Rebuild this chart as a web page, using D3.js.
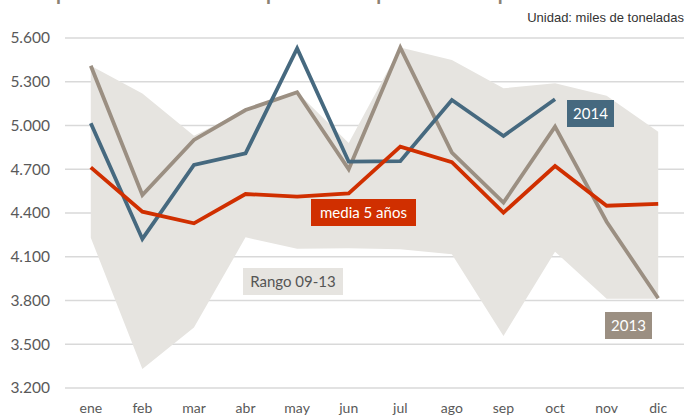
<!DOCTYPE html>
<html>
<head>
<meta charset="utf-8">
<script src="https://cdn.jsdelivr.net/npm/d3@7"></script>
<style>
	body { margin: 0; background: #fff; }
	svg { display: block; }
</style>
</head>
<body>
<div id="chart"></div>
<script>
// Monthly values, thousand tonnes
const months = ['ene', 'feb', 'mar', 'abr', 'may', 'jun', 'jul', 'ago', 'sep', 'oct', 'nov', 'dic'];
const yTicks = [3200, 3500, 3800, 4100, 4400, 4700, 5000, 5300, 5600];

const rangeMax = [5410, 5220, 4930, 5106, 5228, 4880, 5535, 5450, 5255, 5290, 5204, 4957];
const rangeMin = [4230, 3330, 3615, 4233, 4155, 4158, 4151, 4117, 3557, 4135, 3812, 3812];
const values2013 = [5410, 4523, 4901, 5106, 5228, 4700, 5534, 4814, 4471, 4992, 4340, 3815];
const values2014 = [5015, 4222, 4729, 4809, 5529, 4752, 4755, 5175, 4928, 5180];
const media5 = [4713, 4409, 4329, 4530, 4512, 4535, 4855, 4748, 4402, 4722, 4450, 4462];

const width = 684;
const height = 418;

const svg = d3.select('#chart')
	.append('svg')
	.attr('width', width)
	.attr('height', height);

const x = d3.scaleBand().domain(months).range([65, 684]);
const y = d3.scaleLinear().domain([3200, 5600]).range([388, 38]);
const cx = (m) => x(m) + x.bandwidth() / 2;

const fmt = (v) => d3.format(',')(v).replace(',', '.');

// title, cut off at the top edge as in the source
svg.append('text')
	.attr('x', 56)
	.attr('y', 0)
	.attr('fill', '#8c8173')
	.attr('font-family', 'Lato, sans-serif')
	.attr('font-size', 20)
	.attr('font-weight', 'bold')
	.text('producción mensual de piensos compuestos en España');

svg.append('text')
	.attr('x', 684)
	.attr('y', 22)
	.attr('text-anchor', 'end')
	.attr('fill', '#333')
	.attr('font-family', 'Liberation Sans, Arial, sans-serif')
	.attr('font-size', 13)
	.text('Unidad: miles de toneladas');

// gridlines
svg.selectAll('line.grid')
	.data(yTicks)
	.join('line')
	.attr('class', 'grid')
	.attr('x1', 65)
	.attr('x2', 684)
	.attr('y1', (d) => y(d))
	.attr('y2', (d) => y(d))
	.attr('stroke', '#d9d9d9')
	.attr('stroke-width', 1.5);

// range band 09-13
const area = d3.area()
	.x((d, i) => cx(months[i]))
	.y0((d, i) => y(rangeMin[i]))
	.y1((d) => y(d));

svg.append('path')
	.datum(rangeMax)
	.attr('d', area)
	.attr('fill', '#e6e4e0');

// y axis labels
const yAxis = d3.axisLeft(y).tickValues(yTicks).tickFormat(fmt).tickSize(0).tickPadding(0);
svg.append('g')
	.attr('transform', 'translate(50,0)')
	.call(yAxis)
	.call((g) => g.select('.domain').remove())
	.selectAll('text')
	.attr('fill', '#595959')
	.attr('font-family', 'Lato, sans-serif')
	.attr('font-size', 15.5);

// x axis labels
const xAxis = d3.axisBottom(x).tickSize(0).tickPadding(0);
svg.append('g')
	.attr('transform', 'translate(0,403)')
	.call(xAxis)
	.call((g) => g.select('.domain').remove())
	.selectAll('text')
	.attr('fill', '#595959')
	.attr('font-family', 'Lato, sans-serif')
	.attr('font-size', 14);

const line = d3.line().x((d, i) => cx(months[i])).y((d) => y(d));

const series = [
	{ values: values2013, color: '#9b8f82' },
	{ values: values2014, color: '#46697f' },
	{ values: media5, color: '#d02f00' },
];

svg.selectAll('path.series')
	.data(series)
	.join('path')
	.attr('class', 'series')
	.attr('d', (d) => line(d.values))
	.attr('fill', 'none')
	.attr('stroke', (d) => d.color)
	.attr('stroke-width', 3.8)
	.attr('stroke-linejoin', 'miter');

// labels
const labels = [
	{ text: '2014', x: 567, y: 100, w: 47, h: 27, fill: '#46697f', color: '#fff' },
	{ text: '2013', x: 605, y: 312, w: 47, h: 27, fill: '#9b8f82', color: '#fff' },
	{ text: 'media 5 años', x: 311, y: 199, w: 105, h: 27, fill: '#d02f00', color: '#fff' },
	{ text: 'Rango 09-13', x: 243, y: 268, w: 100, h: 27, fill: '#e6e4e0', color: '#555' },
];

const lab = svg.selectAll('g.label')
	.data(labels)
	.join('g')
	.attr('class', 'label');

lab.append('rect')
	.attr('x', (d) => d.x)
	.attr('y', (d) => d.y)
	.attr('width', (d) => d.w)
	.attr('height', (d) => d.h)
	.attr('fill', (d) => d.fill);

lab.append('text')
	.attr('x', (d) => d.x + d.w / 2)
	.attr('y', (d) => d.y + d.h / 2 + 5)
	.attr('text-anchor', 'middle')
	.attr('fill', (d) => d.color)
	.attr('font-family', 'Lato, sans-serif')
	.attr('font-size', 15)
	.text((d) => d.text);
</script>
</body>
</html>
